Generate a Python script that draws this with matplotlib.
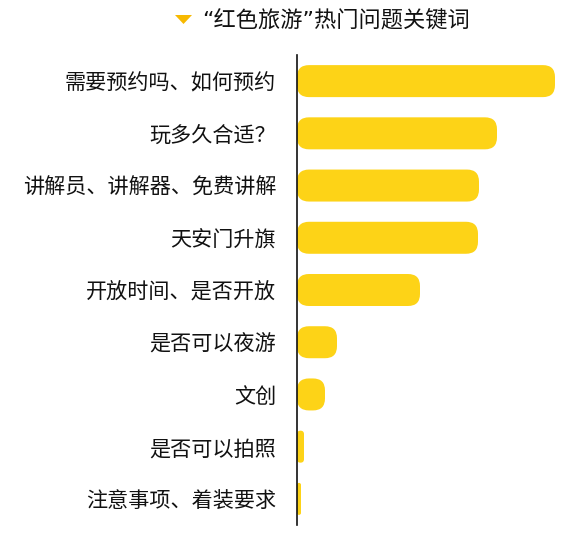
import matplotlib
matplotlib.use("Agg")
import matplotlib.pyplot as plt
from matplotlib.patches import FancyBboxPatch, Polygon

plt.rcParams['font.family'] = ['Noto Sans CJK SC', 'DejaVu Sans']

# data (relative frequency)
labels = ["需要预约吗、如何预约", "玩多久合适？", "讲解员、讲解器、免费讲解", "天安门升旗",
          "开放时间、是否开放", "是否可以夜游", "文创", "是否可以拍照", "注意事项、着装要求"]
values = [258, 200, 182, 181, 123, 40, 28, 7, 4]
title = "“红色旅游”热门问题关键词"

W, H = 586, 542
fig = plt.figure(figsize=(W / 100, H / 100), dpi=100)
fig.patch.set_facecolor("white")

# plot area in pixels
left, right, top, bottom = 297, 586, 55, 525
ax = fig.add_axes([left / W, 1 - bottom / H, (right - left) / W, (bottom - top) / H])
ax.set_xlim(0, right - left)
ax.set_ylim(len(labels) - 0.5, -0.5)

yellow = "#FDD317"
row_px = (bottom - top) / len(labels)
bar_h = 32 / row_px
for i, v in enumerate(values):
    r = min(12, v / 2)
    p = FancyBboxPatch((0, i - bar_h / 2), v, bar_h,
                       boxstyle=f"round,pad=0,rounding_size={r}",
                       mutation_aspect=1 / row_px,
                       fc=yellow, ec="none", zorder=1)
    ax.add_patch(p)

ax.set_yticks(range(len(labels)))
ax.set_yticklabels(labels, fontsize=15.2, color="#111111")
ax.tick_params(axis="y", length=0, pad=15)
ax.set_xticks([])
for s in ["top", "right", "bottom"]:
    ax.spines[s].set_visible(False)
ax.spines["left"].set_linewidth(1.2)
ax.spines["left"].set_color("#111111")
ax.spines["left"].set_zorder(3)
ax.patch.set_alpha(0)

# title with small triangle (quotes from DejaVu so they stay narrow)
tri = Polygon([(175 / W, 1 - 15 / H), (192 / W, 1 - 15 / H), (183.5 / W, 1 - 24 / H)],
              closed=True, transform=fig.transFigure, fc="#F7B900", ec="none")
fig.patches.append(tri)
fig.text(202 / W, 1 - 20 / H, title, fontsize=16, color="#111111",
         ha="left", va="center", family=["DejaVu Sans", "Noto Sans CJK SC"])

fig.savefig("out.png", dpi=100)
